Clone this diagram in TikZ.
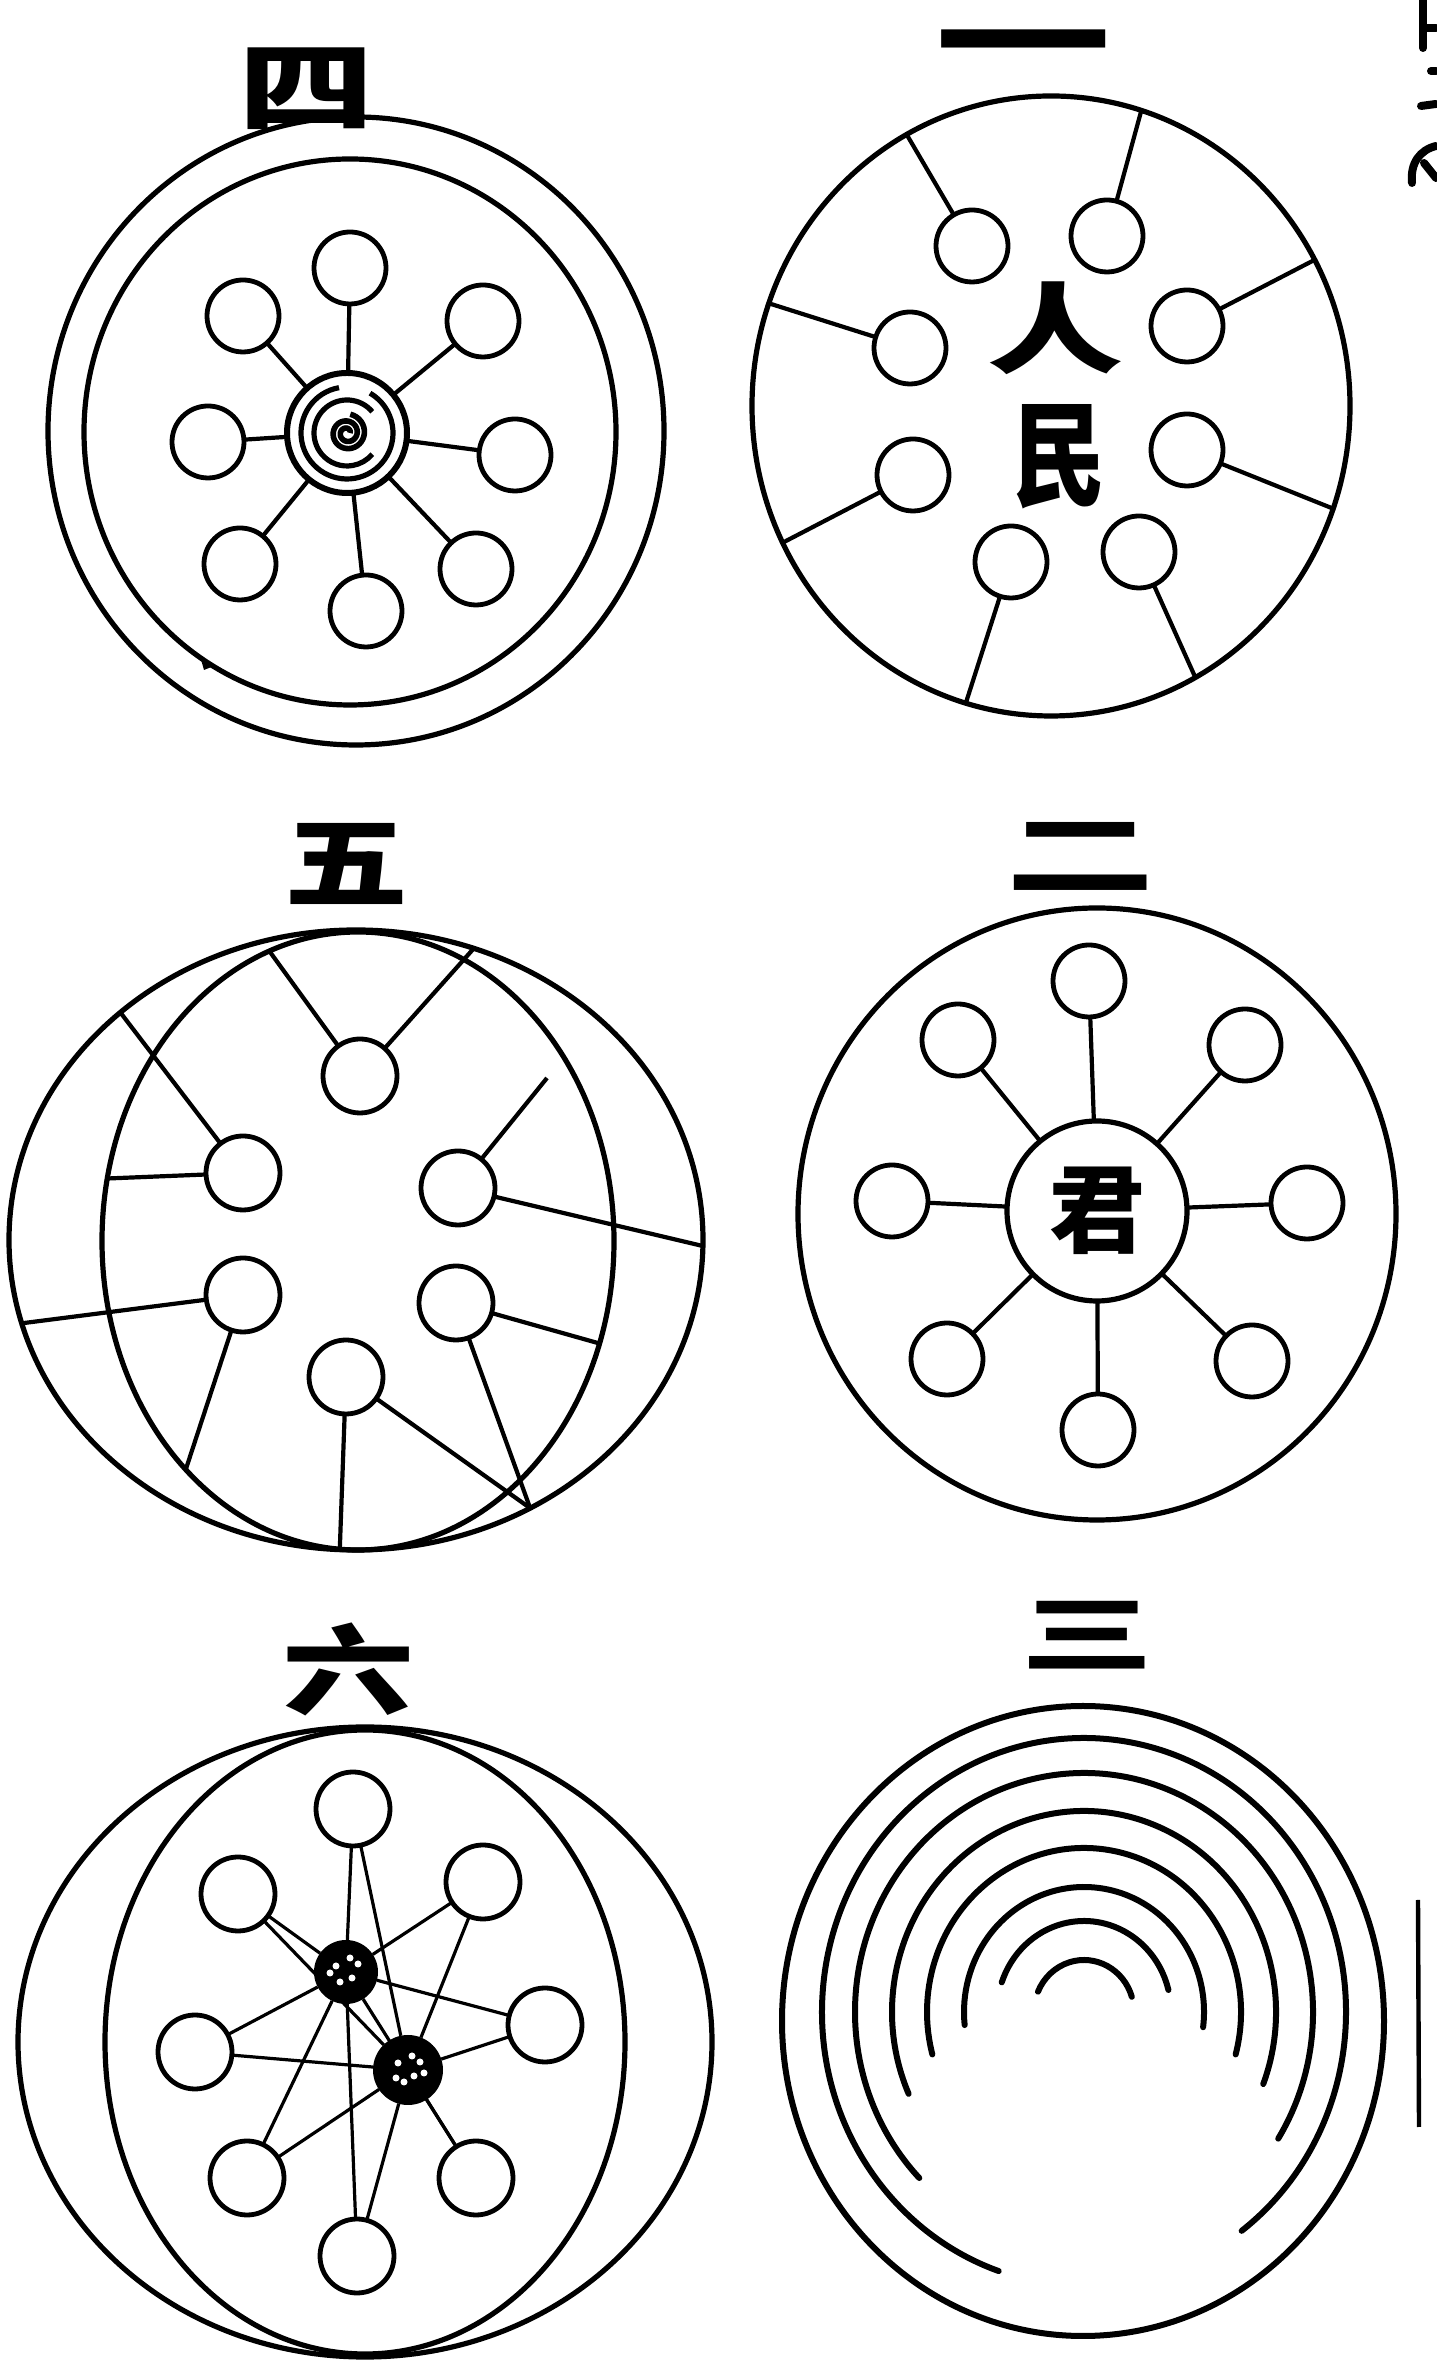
\documentclass[tikz,border=0pt]{standalone}
\usepackage{fontspec}
\usepackage{graphicx}
\newfontfamily\cjk{Noto Sans CJK SC}
\usetikzlibrary{shapes.geometric,calc}
\newcommand{\cjkph}{\vphantom{国}}
\begin{document}
\begin{tikzpicture}[x=0.5pt,y=0.5pt,
  ring/.style={draw,ellipse,line width=2.6pt,inner sep=0pt,outer sep=0pt},
  sc/.style={draw,circle,line width=2.4pt,minimum size=36pt,inner sep=0pt,outer sep=0pt},
  spoke/.style={line width=2.1pt},
  starline/.style={line width=1.6pt},
  hubdark/.style={circle,fill=black,inner sep=0pt,outer sep=0pt},
  lab/.style={inner sep=0pt,font=\cjk\bfseries},
  arcline/.style={line width=3pt,line cap=round},
  frag/.style={line width=4pt,line cap=round}]
\fill[white] (0,0) rectangle (1436,2368);
\useasboundingbox (0,0) rectangle (1436,2368);

% ================= Panel 四 (top left) =================
\node[lab] (t4) at (306,2280) {\scalebox{1}[0.72]{\fontsize{68}{68}\selectfont\cjkph 四}};
\node[ring,minimum width=308pt,minimum height=314pt] (O4) at (356,1937) {};
\node[ring,minimum width=266pt,minimum height=273pt] (I4) at (350,1936) {};
\node[circle,draw,line width=3pt,minimum size=60pt,inner sep=0pt,outer sep=0pt] (h4) at (347,1935) {};
\draw[line width=2.6pt] (347,1935) ++(100:46) arc[start angle=100,end angle=420,radius=46];
\draw[line width=2.6pt] (347,1935) ++(40:33) arc[start angle=40,end angle=320,radius=33];
\draw[line width=2.8pt,domain=0:800,samples=80,smooth,variable=\t]
  plot ({347+(3+\t/50)*cos(\t)},{1935+(3+\t/50)*sin(\t)});
\fill (200,1712) -- (214,1702) -- (204,1698) -- cycle;
\node[sc] (a1) at (350,2100) {};
\node[sc] (a2) at (483,2047) {};
\node[sc] (a3) at (515,1913) {};
\node[sc] (a4) at (476,1799) {};
\node[sc] (a5) at (366,1757) {};
\node[sc] (a6) at (240,1804) {};
\node[sc] (a7) at (208,1926) {};
\node[sc] (a8) at (243,2052) {};
\foreach \i in {1,...,8} \draw[spoke] (h4) -- (a\i);

% ================= Panel 一 (top right) =================
\node[lab] (t1) at (1023,2311) {\scalebox{1}[0.65]{\fontsize{88}{88}\selectfont 一}};
\node[ring,minimum width=299pt,minimum height=310pt] (O1) at (1051,1962) {};
\node[sc] (b1) at (972,2122) {};
\node[sc] (b2) at (1107,2132) {};
\node[sc] (b3) at (1187,2042) {};
\node[sc] (b4) at (910,2020) {};
\node[sc] (b5) at (913,1893) {};
\node[sc] (b6) at (1187,1918) {};
\node[sc] (b7) at (1011,1806) {};
\node[sc] (b8) at (1139,1816) {};
\draw[spoke] (b1) -- (O1.118);
\draw[spoke] (b2) -- (O1.73);
\draw[spoke] (b3) -- (O1.29);
\draw[spoke] (b4) -- (O1.160);
\draw[spoke] (b5) -- (O1.207);
\draw[spoke] (b6) -- (O1.340);
\draw[spoke] (b7) -- (O1.254);
\draw[spoke] (b8) -- (O1.298);
\node[lab] (ren) at (1055,2040) {\scalebox{1}[0.72]{\fontsize{68}{68}\selectfont 人}};
\node[lab] (min) at (1059,1911) {\scalebox{0.9}[1.1]{\fontsize{52}{52}\selectfont 民}};

% ================= Panel 五 (middle left) =================
\node[lab] (t5) at (346,1504) {\scalebox{1}[0.8]{\fontsize{62}{62}\selectfont\cjkph 五}};
\node[ring,minimum width=347pt,minimum height=310pt] (O5) at (356,1128) {};
\node[ring,minimum width=256pt,minimum height=309pt] (I5) at (358,1127) {};
\node[sc,minimum size=37pt] (c1) at (360,1292) {};
\node[sc,minimum size=37pt] (c2) at (243,1195) {};
\node[sc,minimum size=37pt] (c3) at (458,1180) {};
\node[sc,minimum size=37pt] (c4) at (243,1073) {};
\node[sc,minimum size=37pt] (c5) at (456,1065) {};
\node[sc,minimum size=37pt] (c6) at (346,991) {};
\coordinate (f5) at (547,1290);
\draw[spoke] (c1) -- (I5.107);
\draw[spoke] (c1) -- (O5.68);
\draw[spoke] (c2) -- (O5.136);
\draw[spoke] (c2) -- (I5.166);
\draw[spoke] (c3) -- (f5);
\draw[spoke] (c3) -- (O5.-1);
\draw[spoke] (c4) -- (O5.194);
\draw[spoke] (c4) -- (I5.233);
\draw[spoke] (c5) -- (I5.-23);
\draw[spoke] (c5) -- (O5.-57);
\draw[spoke] (c6) -- (O5.267);
\draw[spoke] (c6) -- (O5.-57);

% ================= Panel 二 (middle right) =================
\node[lab] (t2) at (1080,1513) {\scalebox{1}[0.62]{\fontsize{74}{74}\selectfont\cjkph 二}};
\node[ring,minimum width=299pt,minimum height=306pt] (O2) at (1097,1154) {};
\node[circle,draw,line width=2.6pt,minimum size=90pt,inner sep=0pt,outer sep=0pt] (K) at (1097,1157) {\cjk\bfseries\fontsize{48}{48}\selectfont 君};
\node[sc] (d1) at (1089,1387) {};
\node[sc] (d2) at (1245,1323) {};
\node[sc] (d3) at (1307,1165) {};
\node[sc] (d4) at (1252,1007) {};
\node[sc] (d5) at (1098,938) {};
\node[sc] (d6) at (947,1009) {};
\node[sc] (d7) at (892,1167) {};
\node[sc] (d8) at (958,1328) {};
\foreach \i in {1,...,8} \draw[spoke] (K) -- (d\i);

% ================= Panel 六 (bottom left) =================
\node[lab] (t6) at (348,698) {\scalebox{1}[0.75]{\fontsize{66}{66}\selectfont\cjkph 六}};
\node[ring,minimum width=347pt,minimum height=315pt] (O6) at (365,326) {};
\node[ring,minimum width=260pt,minimum height=312pt] (I6) at (365,326) {};
\node[hubdark,minimum size=32pt] (H1) at (346,396) {};
\node[hubdark,minimum size=35pt] (H2) at (408,298) {};
\node[sc,minimum size=37pt] (e1) at (353,559) {};
\node[sc,minimum size=37pt] (e2) at (483,486) {};
\node[sc,minimum size=37pt] (e3) at (545,343) {};
\node[sc,minimum size=37pt] (e4) at (476,190) {};
\node[sc,minimum size=37pt] (e5) at (357,112) {};
\node[sc,minimum size=37pt] (e6) at (247,190) {};
\node[sc,minimum size=37pt] (e7) at (195,316) {};
\node[sc,minimum size=37pt] (e8) at (238,474) {};
\foreach \i in {1,...,8} {
  \draw[starline] (e\i) -- (H1);
  \draw[starline] (e\i) -- (H2);
}
\foreach \p in {(336,402),(352,390),(358,404),(340,386),(330,395),(350,410)}
  \fill[white] \p circle (3.5);
\foreach \p in {(398,305),(414,292),(420,306),(404,286),(396,290),(412,312),(424,295)}
  \fill[white] \p circle (3.5);

% ================= Panel 三 (bottom right) =================
\node[lab] (t3) at (1087,733) {\scalebox{1}[0.64]{\fontsize{66}{66}\selectfont\cjkph 三}};
\draw[arcline] (1083,347) ellipse [x radius=301, y radius=315];
\coordinate (C3) at (1084,356);
\draw[arcline] (C3) ++(-53:262 and 274) arc[start angle=-53,end angle=251,x radius=262,y radius=274];
\draw[arcline] (C3) ++(-32:229 and 239) arc[start angle=-32,end angle=224,x radius=229,y radius=239];
\draw[arcline] (C3) ++(-21:192 and 201) arc[start angle=-21,end angle=204,x radius=192,y radius=201];
\draw[arcline] (C3) ++(-15:157 and 164) arc[start angle=-15,end angle=195,x radius=157,y radius=164];
\draw[arcline] (C3) ++(-7:120 and 125) arc[start angle=-7,end angle=186,x radius=120,y radius=125];
\draw[arcline] (C3) ++(14:87 and 91) arc[start angle=14,end angle=161,x radius=87,y radius=91];
\draw[arcline] (C3) ++(17:50 and 52) arc[start angle=17,end angle=157,x radius=50,y radius=52];

% right margin marks
\draw[line width=2.2pt] (1418,468) -- (1419,241);
\draw[frag] (1423,2368) -- (1423,2320);
\draw[frag] (1425,2340) -- (1436,2340);
\draw[frag] (1431,2297) -- (1436,2297);
\draw[frag] (1421,2262) -- (1436,2264);
\draw[frag] (1412,2185) .. controls (1410,2205) and (1420,2218) .. (1436,2222);
\draw[frag] (1424,2205) -- (1436,2190);
\end{tikzpicture}
\end{document}
